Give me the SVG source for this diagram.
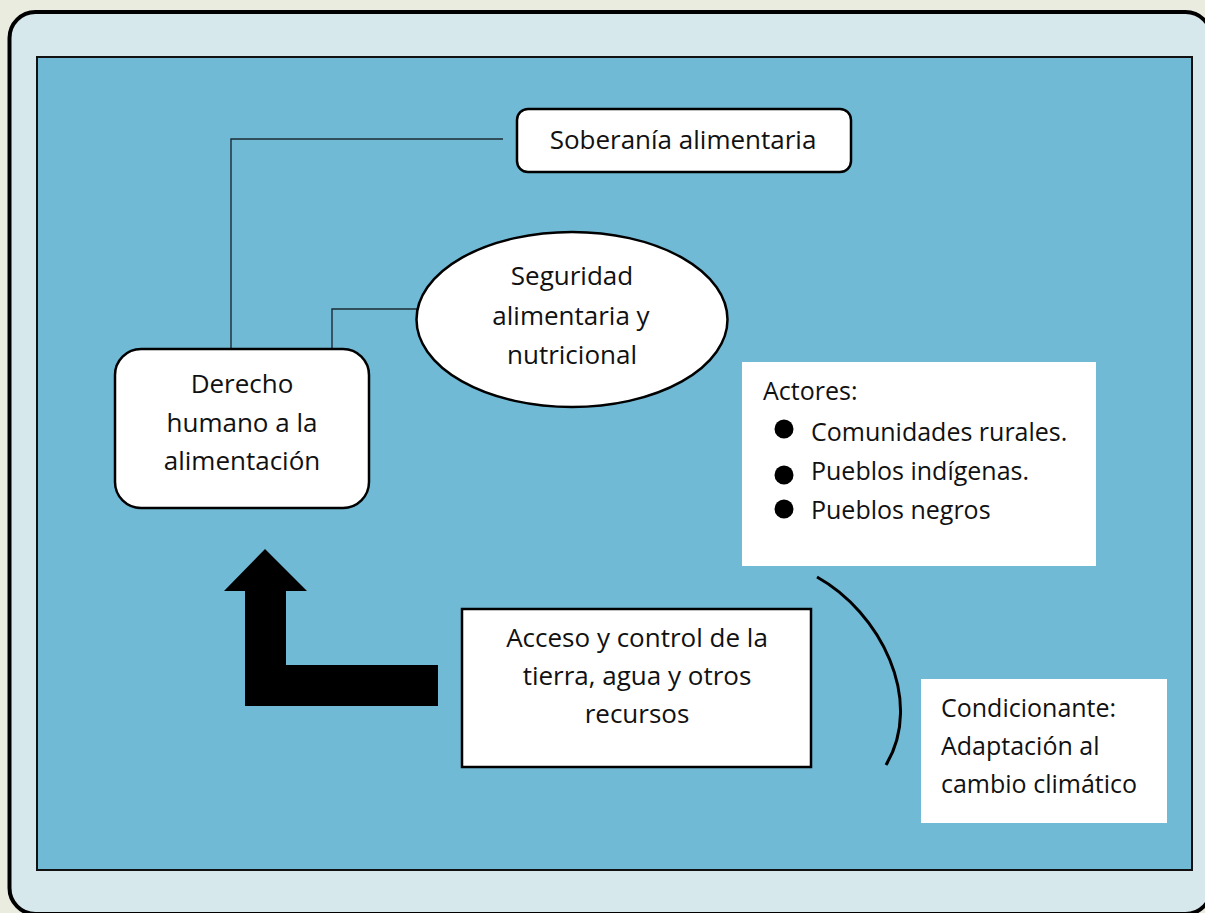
<svg xmlns="http://www.w3.org/2000/svg" width="1205" height="913" viewBox="0 0 1205 913">
<style>
text{font-family:"Open Sans","Noto Sans","Liberation Sans",sans-serif;fill:#111;}
.m{font-size:26px;text-anchor:middle;}
.c{font-size:25px;}
.box{fill:#fff;stroke:#000;stroke-width:2.5;}
.conn{fill:none;stroke:#1c2b33;stroke-width:1.4;}
</style>
<rect x="0" y="0" width="1205" height="913" fill="#e9ecdf"/>
<rect x="9.5" y="12" width="1202" height="902" rx="26" fill="#d7e8ec" stroke="#000" stroke-width="4"/>
<rect x="37" y="57" width="1155" height="813" fill="#71bad5" stroke="#111" stroke-width="2"/>
<g id="connectors">
<polyline class="conn" points="231,349 231,139 503,139"/>
<polyline class="conn" points="332,349 332,309 417,309"/>
<polygon points="265,549 307,591 286,591 286,665 438,665 438,706 245,706 245,591 224,591" fill="#000"/>
<path d="M817,577 C880,612 925,700 886,765" fill="none" stroke="#000" stroke-width="3"/>
</g>
<g id="soberania">
<rect class="box" x="517" y="109" width="334" height="63" rx="11"/>
<text class="m" x="683" y="149">Soberanía alimentaria</text>
</g>
<g id="seguridad">
<ellipse cx="572" cy="319.5" rx="155.5" ry="87.5" fill="#fff" stroke="#000" stroke-width="2.5"/>
<text class="m" x="572" y="285">Seguridad</text>
<text class="m" x="571" y="325">alimentaria y</text>
<text class="m" x="572" y="364">nutricional</text>
</g>
<g id="derecho">
<rect class="box" x="115" y="349" width="254" height="159" rx="26"/>
<text class="m" x="242" y="393">Derecho</text>
<text class="m" x="242" y="432">humano a la</text>
<text class="m" x="242" y="470">alimentación</text>
</g>
<g id="actores">
<rect x="742" y="362" width="354" height="204" fill="#fff"/>
<text class="c" x="763" y="400">Actores:</text>
<circle cx="784" cy="429" r="9.5" fill="#000"/>
<text class="c" x="811" y="441">Comunidades rurales.</text>
<circle cx="784" cy="475" r="9.5" fill="#000"/>
<text class="c" x="811" y="480">Pueblos indígenas.</text>
<circle cx="784" cy="509" r="9.5" fill="#000"/>
<text class="c" x="811" y="519">Pueblos negros</text>
</g>
<g id="acceso">
<rect class="box" x="462" y="609" width="349" height="158"/>
<text class="m" x="637" y="647">Acceso y control de la</text>
<text class="m" x="637" y="685">tierra, agua y otros</text>
<text class="m" x="637" y="723">recursos</text>
</g>
<g id="condicionante">
<rect x="921" y="679" width="246" height="144" fill="#fff"/>
<text class="c" x="941" y="717">Condicionante:</text>
<text class="c" x="941" y="755">Adaptación al</text>
<text class="c" x="941" y="793">cambio climático</text>
</g>
</svg>
